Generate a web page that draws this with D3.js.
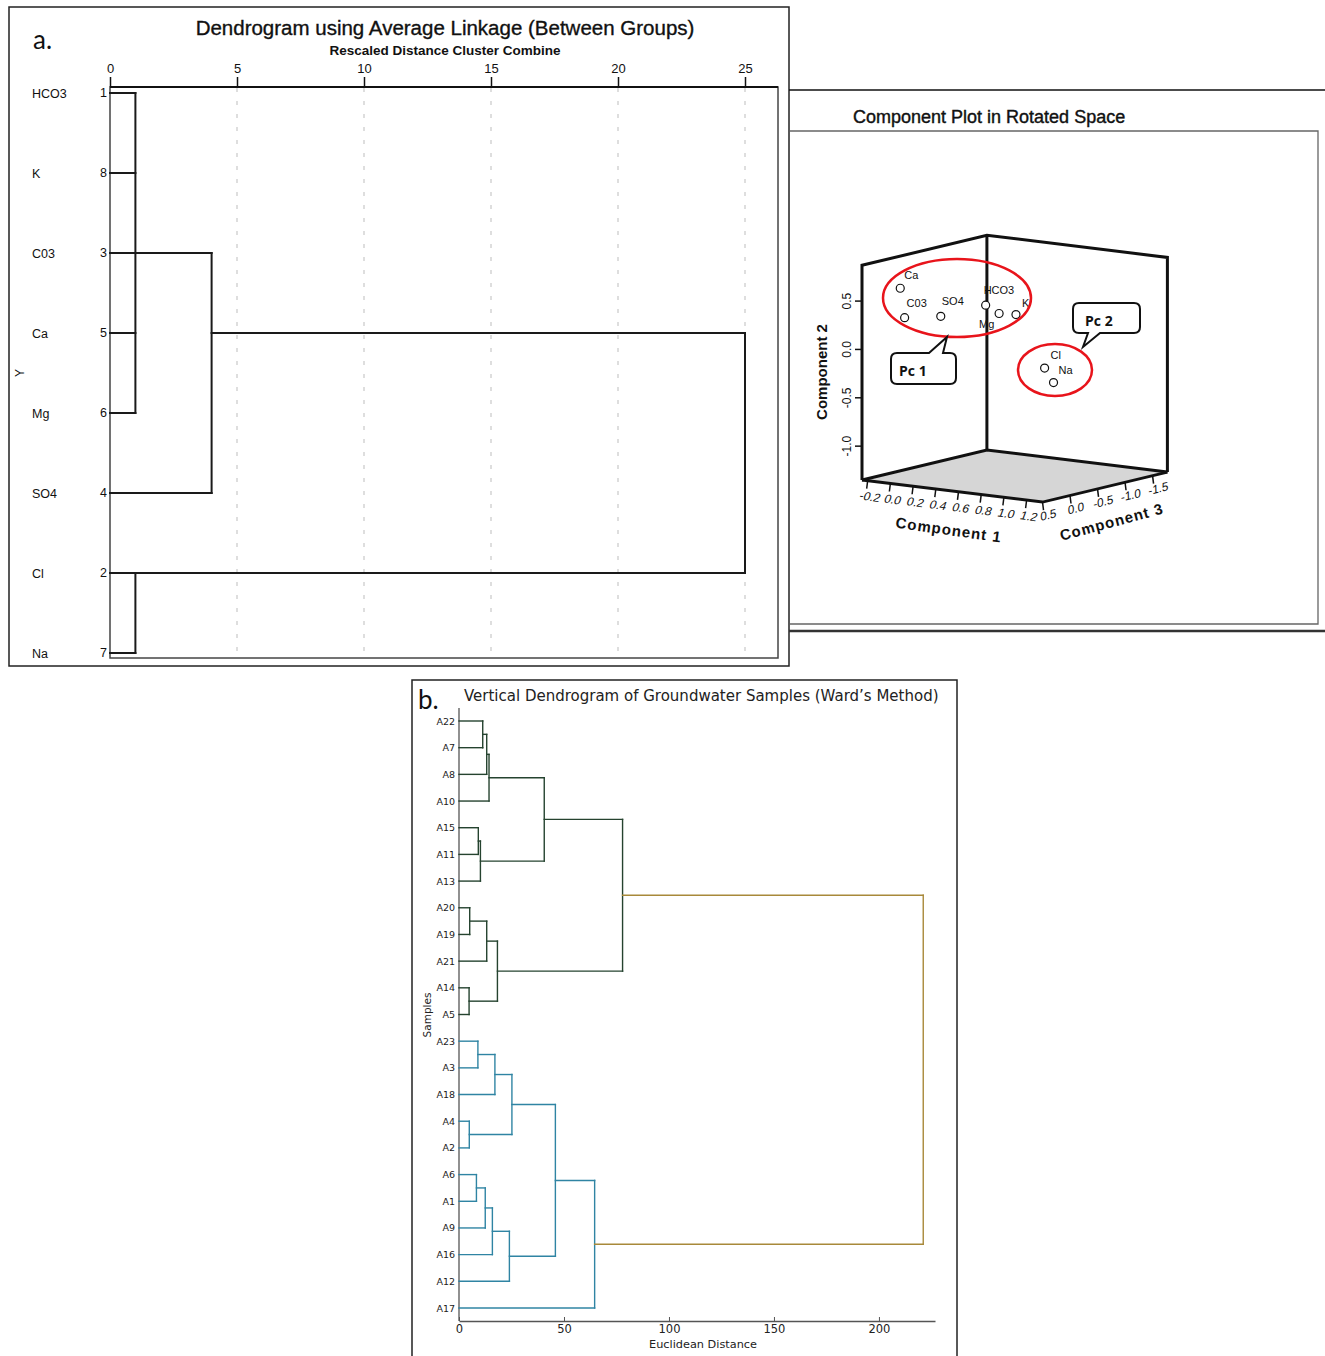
<!DOCTYPE html>
<html>
<head>
<meta charset="utf-8">
<script src="https://cdn.jsdelivr.net/npm/d3@7"></script>
<style>
  body { margin: 0; background: #fff; }
  text { font-family: "Liberation Sans", Arial, sans-serif; }
</style>
</head>
<body>
<div id="chart"></div>
<script>
// ---------- Data ----------
// a. SPSS dendrogram (average linkage)
var aLabels = ["HCO3", "K", "C03", "Ca", "Mg", "SO4", "Cl", "Na"];
var aCaseNums = [1, 8, 3, 5, 6, 4, 2, 7];
// [children (leaf idx or merge id = 8 + k), rescaled distance]
var aMerges = [
  [[0, 1, 2, 3, 4], 1.0],
  [[8, 5], 4.0],
  [[6, 7], 1.0],
  [[9, 10], 25.0]
];
var aTicks = [0, 5, 10, 15, 20, 25];

// Component plot in rotated space (loadings)
var pcVars = ["Ca", "C03", "SO4", "HCO3", "Mg", "K", "Cl", "Na"];
var comp1 = [-0.01, -0.02, 0.25, 0.50, 0.57, 0.67, 0.68, 0.71];
var comp2 = [0.64, 0.32, 0.36, 0.47, 0.38, 0.37, -0.25, -0.41];
var comp3 = [0.30, 0.20, 0.10, -0.20, -0.30, -0.40, -0.90, -1.00];
var c1Ticks = [-0.2, 0.0, 0.2, 0.4, 0.6, 0.8, 1.0, 1.2];
var c2Ticks = [0.5, 0.0, -0.5, -1.0];
var c3Ticks = [0.5, 0.0, -0.5, -1.0, -1.5];

// b. Ward dendrogram
var bLeaves = ["A22", "A7", "A8", "A10", "A15", "A11", "A13", "A20", "A19", "A21", "A14", "A5",
               "A23", "A3", "A18", "A4", "A2", "A6", "A1", "A9", "A16", "A12", "A17"];
// [children (leaf idx or merge id = 23 + k), euclidean distance]
var bMerges = [
  [[0, 1], 11.3], [[23, 2], 13.2], [[24, 3], 14.3],
  [[4, 5], 9.2], [[26, 6], 10.2], [[25, 27], 40.6],
  [[7, 8], 5.1], [[29, 9], 13.2], [[10, 11], 4.8], [[30, 31], 18.3],
  [[28, 32], 77.9],
  [[12, 13], 9.0], [[34, 14], 17.1], [[15, 16], 4.9], [[35, 36], 25.2],
  [[17, 18], 8.3], [[38, 19], 12.5], [[39, 20], 15.9], [[40, 21], 24.0],
  [[37, 41], 45.9], [[42, 22], 64.6],
  [[33, 43], 221.1]
];
var bTicks = [0, 50, 100, 150, 200];

// ---------- SVG ----------
var svgWidth = 1325, svgHeight = 1356;
var svg = d3.select("#chart").append("svg")
  .attr("width", svgWidth).attr("height", svgHeight);

// generic dendrogram drawer
function drawDendro(g, nLeaves, merges, x, y, posRule, colorOf, lw) {
  var pos = d3.range(nLeaves), dist = pos.map(() => 0), first = d3.range(nLeaves);
  merges.forEach((m, i) => {
    var kids = m[0], d = m[1], id = nLeaves + i;
    var ps = kids.map(k => pos[k]);
    pos[id] = posRule(ps);
    dist[id] = d;
    first[id] = d3.min(kids, k => first[k]);
    var col = colorOf(i, first[id], i === merges.length - 1);
    kids.forEach(k => {
      g.append("line")
        .attr("x1", x(dist[k])).attr("x2", x(d))
        .attr("y1", y(pos[k])).attr("y2", y(pos[k]))
        .attr("stroke", col).attr("stroke-width", lw).attr("stroke-linecap", "square");
    });
    g.append("line")
      .attr("x1", x(d)).attr("x2", x(d))
      .attr("y1", y(d3.min(ps))).attr("y2", y(d3.max(ps)))
      .attr("stroke", col).attr("stroke-width", lw).attr("stroke-linecap", "square");
  });
}

// ================= Panel a =================
var ga = svg.append("g");
ga.append("rect").attr("x", 9).attr("y", 7).attr("width", 780).attr("height", 659)
  .attr("fill", "none").attr("stroke", "#222").attr("stroke-width", 1.5);

ga.append("text").attr("x", 33).attr("y", 49).text("a.")
  .style("font-family", "Lato, 'Open Sans', sans-serif").attr("font-size", "26px").attr("fill", "#111");
ga.append("text").attr("x", 445).attr("y", 35).attr("text-anchor", "middle")
  .attr("font-size", "20.5px").attr("fill", "#111").attr("stroke", "#111").attr("stroke-width", 0.35)
  .text("Dendrogram using Average Linkage (Between Groups)");
ga.append("text").attr("x", 445).attr("y", 55).attr("text-anchor", "middle")
  .attr("font-size", "13.5px").attr("font-weight", "bold").attr("fill", "#111")
  .text("Rescaled Distance Cluster Combine");

var xA = d3.scaleLinear().domain([0, 25]).range([110, 745]);
var yA = d3.scaleLinear().domain([0, aLabels.length - 1]).range([93, 653]);

// dashed gridlines
ga.selectAll(".grid").data(aTicks.slice(1)).join("line")
  .attr("x1", d => xA(d)).attr("x2", d => xA(d)).attr("y1", 88).attr("y2", 657)
  .attr("stroke", "#bdbdbd").attr("stroke-width", 1).attr("stroke-dasharray", "4,9");

// plot frame
ga.append("rect").attr("x", 110).attr("y", 87).attr("width", 668).attr("height", 571)
  .attr("fill", "none").attr("stroke", "#444").attr("stroke-width", 1.5);
ga.append("line").attr("x1", 110).attr("x2", 778).attr("y1", 87).attr("y2", 87)
  .attr("stroke", "#111").attr("stroke-width", 2);

var topAxis = d3.axisTop(xA).tickValues(aTicks).tickSize(10).tickSizeOuter(0).tickPadding(4);
var axA = ga.append("g").attr("transform", "translate(0,87)").call(topAxis);
axA.select(".domain").remove();
axA.selectAll("line").attr("stroke", "#111").attr("stroke-width", 1.5);
axA.selectAll("text").attr("font-size", "13px").attr("fill", "#111")
  .style("font-family", "'Liberation Sans', Arial, sans-serif");

// row labels
ga.selectAll(".rowlab").data(aLabels).join("text")
  .attr("x", 32).attr("y", (d, i) => yA(i) + 5)
  .attr("font-size", "12.5px").attr("fill", "#111").text(d => d);
ga.selectAll(".rownum").data(aCaseNums).join("text")
  .attr("x", 107).attr("y", (d, i) => yA(i) + 4).attr("text-anchor", "end")
  .attr("font-size", "12.5px").attr("fill", "#111").text(d => d);
ga.append("text").attr("transform", "translate(24,373) rotate(-90)")
  .attr("text-anchor", "middle").attr("font-size", "12px").attr("fill", "#111").text("Y");

drawDendro(ga, aLabels.length, aMerges, xA, yA,
  ps => Math.floor(d3.mean(ps)), () => "#1a1a1a", 2);

// ================= Component plot =================
var gc = svg.append("g");
gc.append("line").attr("x1", 789).attr("x2", 1325).attr("y1", 90).attr("y2", 90)
  .attr("stroke", "#111").attr("stroke-width", 1.5);
gc.append("path").attr("d", "M790,131 L1318,131 L1318,624 L790,624")
  .attr("fill", "none").attr("stroke", "#666").attr("stroke-width", 1.3);
gc.append("line").attr("x1", 789).attr("x2", 1325).attr("y1", 631).attr("y2", 631)
  .attr("stroke", "#333").attr("stroke-width", 2.5);
gc.append("text").attr("x", 853).attr("y", 123).attr("font-size", "18px").attr("fill", "#111")
  .attr("stroke", "#111").attr("stroke-width", 0.4).text("Component Plot in Rotated Space");

// oblique projection of the 3-D box
var c1Range = [-0.25, 1.34], c2Range = [-1.35, 0.87], c3Range = [-1.77, 0.5];
var s1 = d3.scaleLinear().domain(c1Range).range([0, 1]);
var s2 = d3.scaleLinear().domain(c2Range).range([0, 1]);
var s3 = d3.scaleLinear().domain([c3Range[1], c3Range[0]]).range([0, 1]);
var origin = [862, 480];
var e1 = [180.5, 22.1], e2 = [0, -214.7], e3 = [124.9, -30];
function proj(a, b, c) {
  var u = s1(a), v = s2(b), w = s3(c);
  return [origin[0] + u * e1[0] + v * e2[0] + w * e3[0],
          origin[1] + u * e1[1] + v * e2[1] + w * e3[1]];
}
var lo1 = c1Range[0], hi1 = c1Range[1], lo2 = c2Range[0], hi2 = c2Range[1], lo3 = c3Range[0], hi3 = c3Range[1];
var pLeft = proj(lo1, lo2, hi3), pBack = proj(lo1, lo2, lo3), pRight = proj(hi1, lo2, lo3), pFront = proj(hi1, lo2, hi3);
var tLeft = proj(lo1, hi2, hi3), tBack = proj(lo1, hi2, lo3), tRight = proj(hi1, hi2, lo3);
var line = d3.line();

gc.append("path").attr("d", line([pLeft, pBack, pRight, pFront]) + "Z")
  .attr("fill", "#d6d6d6").attr("stroke", "#fff").attr("stroke-width", 2);
gc.append("path").attr("d", line([pLeft, tLeft, tBack, tRight, pRight]))
  .attr("fill", "none").attr("stroke", "#111").attr("stroke-width", 3).attr("stroke-linejoin", "miter");
gc.append("path").attr("d", line([tBack, pBack]))
  .attr("fill", "none").attr("stroke", "#111").attr("stroke-width", 3);
gc.append("path").attr("d", line([pLeft, pBack, pRight]))
  .attr("fill", "none").attr("stroke", "#111").attr("stroke-width", 3);
gc.append("path").attr("d", line([pLeft, pFront, pRight]))
  .attr("fill", "none").attr("stroke", "#111").attr("stroke-width", 3);

// component 2 ticks (left vertical edge)
c2Ticks.forEach(t => {
  var p = proj(lo1, t, hi3);
  gc.append("line").attr("x1", p[0] - 7).attr("x2", p[0]).attr("y1", p[1]).attr("y2", p[1])
    .attr("stroke", "#111").attr("stroke-width", 1.5);
  gc.append("text").attr("transform", `translate(${p[0] - 11},${p[1]}) rotate(-90)`)
    .attr("text-anchor", "middle").attr("font-size", "12px").attr("fill", "#111").text(t.toFixed(1));
});
gc.append("text").attr("transform", "translate(827,372) rotate(-90)").attr("text-anchor", "middle")
  .attr("font-size", "15px").attr("font-weight", "bold").attr("fill", "#111").text("Component 2");

// component 1 ticks (front-left floor edge)
c1Ticks.forEach(t => {
  var p = proj(t, lo2, hi3);
  gc.append("line").attr("x1", p[0]).attr("x2", p[0] - 1).attr("y1", p[1]).attr("y2", p[1] + 8)
    .attr("stroke", "#111").attr("stroke-width", 1.5);
  gc.append("text").attr("transform", `translate(${p[0] + 1},${p[1] + 20}) rotate(8) skewX(-12)`)
    .attr("text-anchor", "middle").attr("font-size", "12px").attr("fill", "#111").text(t.toFixed(1));
});
gc.append("text").attr("transform", "translate(948,535) rotate(8)").attr("text-anchor", "middle")
  .attr("font-size", "15px").attr("font-weight", "bold").attr("letter-spacing", "1px")
  .attr("fill", "#111").text("Component 1");

// component 3 ticks (front-right floor edge)
c3Ticks.forEach(t => {
  var p = proj(hi1, lo2, t);
  gc.append("line").attr("x1", p[0]).attr("x2", p[0] + 1).attr("y1", p[1]).attr("y2", p[1] + 8)
    .attr("stroke", "#111").attr("stroke-width", 1.5);
  gc.append("text").attr("transform", `translate(${p[0] + 6},${p[1] + 17}) rotate(-14) skewX(-12)`)
    .attr("text-anchor", "middle").attr("font-size", "12px").attr("fill", "#111").text(t.toFixed(1));
});
gc.append("text").attr("transform", "translate(1113,527) rotate(-15)").attr("text-anchor", "middle")
  .attr("font-size", "15px").attr("font-weight", "bold").attr("letter-spacing", "1px")
  .attr("fill", "#111").text("Component 3");

// point label offsets
var labelOffsets = {Ca: [4, -9], C03: [2, -11], SO4: [1, -11], HCO3: [-2, -11],
                    Mg: [-20, 14], K: [6, -8], Cl: [6, -9], Na: [5, -9]};
var pcData = pcVars.map((v, i) => ({name: v, p: proj(comp1[i], comp2[i], comp3[i])}));
gc.selectAll(".pt").data(pcData).join("circle")
  .attr("cx", d => d.p[0]).attr("cy", d => d.p[1]).attr("r", 4)
  .attr("fill", "#fff").attr("stroke", "#111").attr("stroke-width", 1.2);
gc.selectAll(".ptlab").data(pcData).join("text")
  .attr("x", d => d.p[0] + labelOffsets[d.name][0]).attr("y", d => d.p[1] + labelOffsets[d.name][1])
  .attr("font-size", "11px").attr("fill", "#111").text(d => d.name);

// red group ellipses
gc.append("ellipse").attr("cx", 957).attr("cy", 298).attr("rx", 74).attr("ry", 39)
  .attr("fill", "none").attr("stroke", "#e8141b").attr("stroke-width", 2.5);
gc.append("ellipse").attr("cx", 1055).attr("cy", 370).attr("rx", 37).attr("ry", 26)
  .attr("fill", "none").attr("stroke", "#e8141b").attr("stroke-width", 2.5);

// callouts
gc.append("path")
  .attr("d", "M897,353 L929,353 L947,337 L943,353 L950,353 Q956,353 956,359 L956,378 Q956,384 950,384 L897,384 Q891,384 891,378 L891,359 Q891,353 897,353 Z")
  .attr("fill", "#fff").attr("stroke", "#111").attr("stroke-width", 2);
gc.append("text").attr("x", 899).attr("y", 376).attr("font-size", "14px").attr("font-weight", "bold")
  .style("font-family", "'Open Sans', sans-serif").attr("fill", "#111").text("Pc 1");
gc.append("path")
  .attr("d", "M1079,303 L1134,303 Q1140,303 1140,309 L1140,327 Q1140,333 1134,333 L1100,333 L1083,347 L1088,333 L1079,333 Q1073,333 1073,327 L1073,309 Q1073,303 1079,303 Z")
  .attr("fill", "#fff").attr("stroke", "#111").attr("stroke-width", 2);
gc.append("text").attr("x", 1085).attr("y", 326).attr("font-size", "14px").attr("font-weight", "bold")
  .style("font-family", "'Open Sans', sans-serif").attr("fill", "#111").text("Pc 2");

// ================= Panel b =================
var gb = svg.append("g");
gb.append("rect").attr("x", 412).attr("y", 680).attr("width", 545).attr("height", 690)
  .attr("fill", "none").attr("stroke", "#222").attr("stroke-width", 1.5);
gb.append("text").attr("x", 418).attr("y", 709).text("b.")
  .style("font-family", "Lato, 'Open Sans', sans-serif").attr("font-size", "26px").attr("fill", "#111");
gb.append("text").attr("x", 464).attr("y", 701)
  .style("font-family", "'DejaVu Sans', sans-serif").attr("font-size", "15px").attr("fill", "#222")
  .text("Vertical Dendrogram of Groundwater Samples (Ward\u2019s Method)");

var xB = d3.scaleLinear().domain([0, 226.7]).range([459, 935]);
var yB = d3.scaleLinear().domain([0, bLeaves.length - 1]).range([721, 1308]);

var bottomAxis = d3.axisBottom(xB).tickValues(bTicks).tickSizeInner(-4).tickSizeOuter(0).tickPadding(4);
var axB = gb.append("g").attr("transform", "translate(0,1321)").call(bottomAxis);
axB.select(".domain").attr("stroke", "#555").attr("stroke-width", 1.3);
axB.selectAll("line").attr("stroke", "#555");
axB.selectAll("text").attr("font-size", "11.5px").attr("fill", "#222")
  .style("font-family", "'DejaVu Sans', sans-serif");

gb.append("line").attr("x1", 459).attr("x2", 459).attr("y1", 708).attr("y2", 1321)
  .attr("stroke", "#555").attr("stroke-width", 1.3);
gb.selectAll(".leaf").data(bLeaves).join("text")
  .attr("x", 455).attr("y", (d, i) => yB(i) + 3.5).attr("text-anchor", "end")
  .style("font-family", "'DejaVu Sans', sans-serif").attr("font-size", "9.5px").attr("fill", "#222")
  .text(d => d);
gb.append("text").attr("x", 703).attr("y", 1348).attr("text-anchor", "middle")
  .style("font-family", "'DejaVu Sans', sans-serif").attr("font-size", "11.3px").attr("fill", "#222")
  .text("Euclidean Distance");
gb.append("text").attr("transform", "translate(431,1015) rotate(-90)").attr("text-anchor", "middle")
  .style("font-family", "'DejaVu Sans', sans-serif").attr("font-size", "10.5px").attr("fill", "#222")
  .text("Samples");

drawDendro(gb, bLeaves.length, bMerges, xB, yB, ps => d3.mean(ps),
  (i, firstLeaf, isRoot) => isRoot ? "#a8893a" : (firstLeaf < 12 ? "#25432f" : "#2f84a3"), 1.4);
</script>
</body>
</html>
